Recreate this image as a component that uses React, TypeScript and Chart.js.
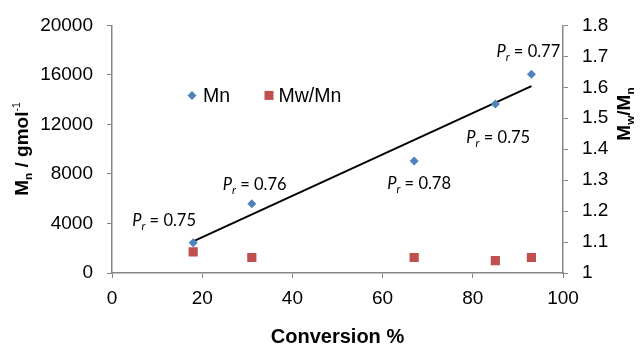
import React, { useEffect, useRef } from "react";
import { Chart, registerables } from "chart.js";

Chart.register(...registerables);

// Data
const conversion = [18, 31, 67, 85, 93];
const mnValues = [2450, 5600, 9050, 13650, 16050];
const dispersity = [1.068, 1.05, 1.05, 1.04, 1.05];
const trendX = [18, 93];
const trendY = [2550, 15100];
const prLabels = ["0.75", "0.76", "0.78", "0.75", "0.77"];
const leftTicks = [0, 4000, 8000, 12000, 16000, 20000];
const xTicks = [0, 20, 40, 60, 80, 100];

// label placement (pixel offsets from each Mn point)
const prOffsets = [
  [-61, -17],
  [-29, -14],
  [-27, 28],
  [-29, 39],
  [-35, -17],
];

const BLUE = "#4F81BD";
const RED = "#C0504D";
const AXIS = "#868686";
const TICK_FONT = { family: "'Liberation Sans', Arial, sans-serif", size: 19 };

type Seg = { t: string; italic?: boolean; bold?: boolean; scale?: number; dy?: number };

function drawSegs(ctx: CanvasRenderingContext2D, segs: Seg[], x: number, y: number, size: number, family: string, align: "left" | "center") {
  const fontOf = (s: Seg) =>
    `${s.italic ? "italic " : ""}${s.bold ? "bold " : ""}${Math.round(size * (s.scale || 1) * 10) / 10}px ${family}`;
  let total = 0;
  for (const s of segs) {
    ctx.font = fontOf(s);
    total += ctx.measureText(s.t).width;
  }
  let cx = align === "center" ? x - total / 2 : x;
  ctx.textAlign = "left";
  ctx.textBaseline = "alphabetic";
  for (const s of segs) {
    ctx.font = fontOf(s);
    ctx.fillText(s.t, cx, y + (s.dy || 0) * size);
    cx += ctx.measureText(s.t).width;
  }
}

const overlayPlugin = {
  id: "overlay",
  afterDraw(chart: any) {
    const ctx: CanvasRenderingContext2D = chart.ctx;
    const xs = chart.scales.x;
    const ys = chart.scales.y;
    const area = chart.chartArea;
    ctx.save();
    ctx.fillStyle = "#000";

    // P_r annotations
    const calib = "Lato, 'Open Sans', sans-serif";
    conversion.forEach((c, i) => {
      const px = xs.getPixelForValue(c) + prOffsets[i][0];
      const py = ys.getPixelForValue(mnValues[i]) + prOffsets[i][1];
      drawSegs(
        ctx,
        [
          { t: "P", italic: true },
          { t: "r", italic: true, scale: 0.7, dy: 0.25 },
          { t: " = " + prLabels[i] },
        ],
        px,
        py,
        16.5,
        calib,
        "left"
      );
    });

    // Legend inside plot
    const lx = area.left + 80;
    const ly = area.top + 70;
    ctx.fillStyle = BLUE;
    ctx.beginPath();
    ctx.moveTo(lx, ly - 4.5);
    ctx.lineTo(lx + 4.5, ly);
    ctx.lineTo(lx, ly + 4.5);
    ctx.lineTo(lx - 4.5, ly);
    ctx.closePath();
    ctx.fill();
    ctx.fillStyle = "#000";
    ctx.font = "19.5px 'Liberation Sans', Arial, sans-serif";
    ctx.textBaseline = "middle";
    ctx.textAlign = "left";
    ctx.fillText("Mn", lx + 11, ly + 1);
    const rx = lx + 77;
    ctx.fillStyle = RED;
    ctx.fillRect(rx - 4.5, ly - 4.5, 9, 9);
    ctx.fillStyle = "#000";
    ctx.fillText("Mw/Mn", rx + 9.5, ly + 1);

    // Axis titles (rotated)
    const arial = "'Liberation Sans', Arial, sans-serif";
    ctx.save();
    ctx.translate(28, 149);
    ctx.rotate(-Math.PI / 2);
    drawSegs(
      ctx,
      [
        { t: "M", bold: true },
        { t: "n", bold: true, scale: 0.62, dy: 0.22 },
        { t: " / gmol", bold: true },
        { t: "-1", bold: false, scale: 0.55, dy: -0.42 },
      ],
      0,
      0,
      19,
      arial,
      "center"
    );
    ctx.restore();

    ctx.save();
    ctx.translate(630, 114);
    ctx.rotate(-Math.PI / 2);
    drawSegs(
      ctx,
      [
        { t: "M", bold: true },
        { t: "w", bold: true, scale: 0.62, dy: 0.22 },
        { t: "/M", bold: true },
        { t: "n", bold: true, scale: 0.62, dy: 0.22 },
      ],
      0,
      0,
      19,
      arial,
      "center"
    );
    ctx.restore();

    ctx.restore();
  },
};

export default function App() {
  const ref = useRef<HTMLCanvasElement | null>(null);
  useEffect(() => {
    document.body.style.margin = "0";
    const canvas = ref.current;
    if (!canvas) return;
    const chart = new Chart(canvas, {
      type: "scatter",
      data: {
        datasets: [
          {
            type: "line",
            label: "trend",
            data: trendX.map((x, i) => ({ x, y: trendY[i] })),
            borderColor: "#000",
            borderWidth: 2,
            pointRadius: 0,
            yAxisID: "y",
            order: 3,
          },
          {
            label: "Mn",
            data: conversion.map((x, i) => ({ x, y: mnValues[i] })),
            pointStyle: "rectRot",
            pointRadius: 4.5,
            borderWidth: 0,
            backgroundColor: BLUE,
            borderColor: BLUE,
            yAxisID: "y",
            order: 1,
          },
          {
            label: "Mw/Mn",
            data: conversion.map((x, i) => ({ x, y: dispersity[i] })),
            pointStyle: "rect",
            pointRadius: 6.5,
            borderWidth: 0,
            backgroundColor: RED,
            borderColor: RED,
            yAxisID: "y1",
            order: 2,
          },
        ],
      } as any,
      options: {
        responsive: false,
        animation: false,
        layout: { padding: { top: 23, left: 0, right: 0, bottom: 0 } },
        plugins: { legend: { display: false }, tooltip: { enabled: false } },
        scales: {
          x: {
            type: "linear",
            min: 0,
            max: 100,
            afterBuildTicks: (s: any) => {
              s.ticks = xTicks.map((v) => ({ value: v }));
            },
            ticks: { font: TICK_FONT, color: "#000", padding: 9 },
            grid: { drawOnChartArea: false, drawTicks: true, tickLength: 5, color: AXIS },
            border: { color: AXIS, width: 1.5 },
            title: {
              display: true,
              text: "Conversion %",
              font: { family: "'Liberation Sans', Arial, sans-serif", size: 20, weight: "bold", lineHeight: 1 },
              color: "#000",
              padding: { top: 0, bottom: -2 },
            },
            afterFit: (s: any) => {
              s.height = 72;
            },
          },
          y: {
            type: "linear",
            position: "left",
            min: 0,
            max: 20000,
            afterBuildTicks: (s: any) => {
              s.ticks = leftTicks.map((v) => ({ value: v }));
            },
            ticks: { font: TICK_FONT, color: "#000", padding: 14, callback: (v: any) => String(v) },
            grid: { drawOnChartArea: false, drawTicks: true, tickLength: 5, color: AXIS },
            border: { color: AXIS, width: 1.5 },
            afterFit: (s: any) => {
              s.width = 112;
            },
          },
          y1: {
            type: "linear",
            position: "right",
            min: 1,
            max: 1.8,
            ticks: {
              stepSize: 0.1,
              font: TICK_FONT,
              color: "#000",
              padding: 14,
              callback: (v: any) => String(Math.round(Number(v) * 10) / 10),
            },
            grid: { drawOnChartArea: false, drawTicks: true, tickLength: 5, color: AXIS },
            border: { color: AXIS, width: 1.5 },
            afterFit: (s: any) => {
              s.width = 79;
            },
          },
        },
      } as any,
      plugins: [overlayPlugin],
    });
    return () => chart.destroy();
  }, []);
  return (
    <div style={{ position: "absolute", left: 0, top: 0, width: 642, height: 345, background: "#fff" }}>
      <canvas ref={ref} width={642} height={345} style={{ display: "block" }} />
    </div>
  );
}
